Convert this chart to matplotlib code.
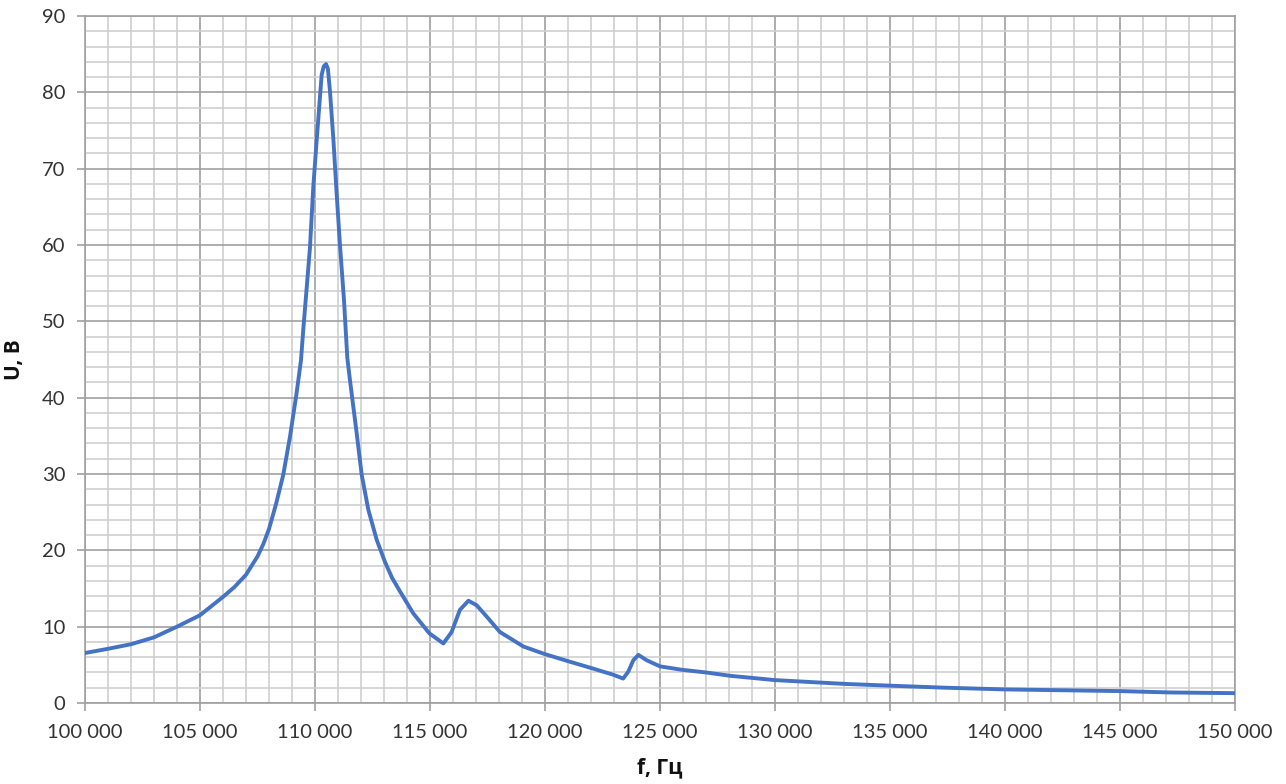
import matplotlib
matplotlib.use("Agg")
import matplotlib.pyplot as plt
from matplotlib.ticker import MultipleLocator, FuncFormatter

# Data
freq_hz = [100000, 101000, 102000, 103000, 104000, 105000, 106000, 106500, 107000,
           107500, 107750, 108000, 108300, 108620, 108913, 109200, 109390, 109490,
           109780, 109925, 110075, 110290, 110380, 110480, 110560, 110650, 110800,
           110940, 111090, 111260, 111405, 111520, 111810, 112030, 112320, 112680,
           113040, 113350, 113700, 114270, 114970, 115580, 115940, 116300, 116670,
           117030, 117470, 118040, 119060, 120000, 121090, 122100, 122970, 123400,
           123620, 123840, 124060, 124420, 125000, 125930, 127000, 128060, 130000,
           133040, 135000, 137440, 140000, 145000, 147200, 150000]
voltage_v = [6.55, 7.1, 7.7, 8.6, 10.0, 11.5, 13.9, 15.2, 16.8,
             19.2, 20.8, 22.8, 26.0, 29.9, 34.9, 40.6, 44.9, 48.9,
             59.6, 67.6, 73.8, 82.3, 83.4, 83.7, 83.1, 80.2, 73.8,
             66.8, 59.8, 52.8, 45.2, 42.3, 35.4, 29.9, 25.3, 21.4,
             18.5, 16.4, 14.6, 11.75, 9.13, 7.8, 9.3, 12.2, 13.4,
             12.8, 11.3, 9.3, 7.4, 6.4, 5.4, 4.5, 3.7, 3.2,
             4.1, 5.6, 6.3, 5.6, 4.8, 4.36, 4.0, 3.56, 3.0,
             2.5, 2.27, 2.0, 1.78, 1.56, 1.38, 1.29]

x_label = "f, Гц"
y_label = "U, В"

fonts = ["Lato", "Open Sans", "DejaVu Sans"]
plt.rcParams["font.family"] = fonts

fig = plt.figure(figsize=(12.86, 7.84), dpi=100)
ax = fig.add_axes([85 / 1286, 81 / 784, 1150 / 1286, 687 / 784])

ax.plot(freq_hz, voltage_v, color="#4472C4", linewidth=2.8, solid_capstyle="round",
        solid_joinstyle="round", zorder=3)

ax.set_xlim(100000, 150000)
ax.set_ylim(0, 90)
ax.xaxis.set_major_locator(MultipleLocator(5000))
ax.xaxis.set_minor_locator(MultipleLocator(1000))
ax.yaxis.set_major_locator(MultipleLocator(10))
ax.yaxis.set_minor_locator(MultipleLocator(2))
ax.xaxis.set_major_formatter(FuncFormatter(lambda v, p: f"{int(round(v)):,}".replace(",", " ")))

ax.grid(which="major", color="#A0A0A0", linewidth=1.2, zorder=1)
ax.grid(which="minor", color="#CFCFCF", linewidth=1.2, zorder=0)
ax.set_axisbelow(True)

for s in ax.spines.values():
    s.set_color("#A0A0A0")
    s.set_linewidth(1.2)

ax.tick_params(which="major", direction="out", length=6, width=1.2, color="#A0A0A0",
               labelsize=14.5, labelcolor="#333333")
ax.tick_params(axis="x", which="major", pad=9)
ax.tick_params(axis="y", which="major", pad=8)
ax.tick_params(which="minor", length=0)

ax.set_xlabel(x_label, fontsize=15, fontweight="bold", color="#111111", labelpad=12,
              family=["Open Sans", "DejaVu Sans"])
ax.set_ylabel(y_label, fontsize=15, fontweight="bold", color="#111111", labelpad=12,
              family=["Open Sans", "DejaVu Sans"])

fig.savefig("out.png", dpi=100)
